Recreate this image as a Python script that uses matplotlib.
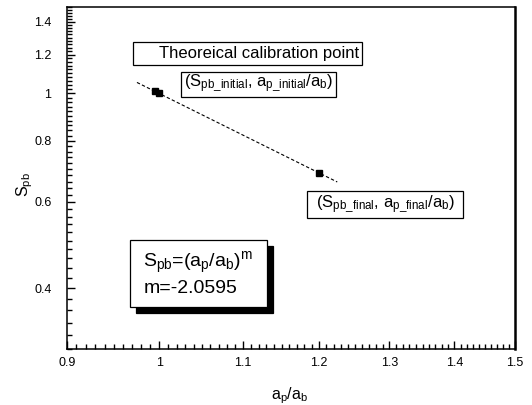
import matplotlib
matplotlib.use('Agg')
import matplotlib.pyplot as plt
import matplotlib.patches as patches
from matplotlib.ticker import FixedLocator, FixedFormatter, NullFormatter
import numpy as np

plt.rcParams['font.family'] = ['Liberation Sans', 'DejaVu Sans']
plt.rcParams['mathtext.fontset'] = 'custom'
plt.rcParams['mathtext.rm'] = 'Liberation Sans'
plt.rcParams['mathtext.it'] = 'Liberation Sans'
plt.rcParams['mathtext.bf'] = 'Liberation Sans:bold'

# datos
pts_x = [0.995, 1.0, 1.2]
pts_y = [1.010, 1.0, 0.687]
fit_x = [0.975, 1.225]
fit_y = [1.053, 0.659]

xticks = [0.9, 1.0, 1.1, 1.2, 1.3, 1.4, 1.5]
xlabels = ['0.9', '1', '1.1', '1.2', '1.3', '1.4', '1.5']
yticks = [0.4, 0.6, 0.8, 1.0, 1.2, 1.4]
ylabels = ['0.4', '0.6', '0.8', '1', '1.2', '1.4']

fig = plt.figure(figsize=(5.32, 4.05), dpi=100)
ax = fig.add_axes([0.1254, 0.138, 0.8426, 0.844])

ax.plot(fit_x, fit_y, color='black', linestyle=(0, (3, 2)), linewidth=0.8)
ax.plot(pts_x, pts_y, 's', color='black', markersize=5)

ax.set_xscale('log')
ax.set_yscale('log')
ax.set_xlim(0.9, 1.5)
ax.set_ylim(0.3, 1.5)

ax.xaxis.set_major_locator(FixedLocator(xticks))
ax.xaxis.set_major_formatter(FixedFormatter(xlabels))
ax.xaxis.set_minor_locator(FixedLocator(np.arange(0.9, 1.5001, 0.01)))
ax.xaxis.set_minor_formatter(NullFormatter())
ax.yaxis.set_major_locator(FixedLocator(yticks))
ax.yaxis.set_major_formatter(FixedFormatter(ylabels))
ax.yaxis.set_minor_locator(FixedLocator(np.arange(0.3, 1.5001, 0.02)))
ax.yaxis.set_minor_formatter(NullFormatter())

ax.tick_params(which='both', direction='in', top=False, right=False, width=1.0)
ax.tick_params(which='major', length=6)
ax.tick_params(which='minor', length=3.5)
ax.tick_params(axis='x', which='major', labelsize=9, pad=6)
ax.tick_params(axis='y', which='major', labelsize=9, pad=11)
for s in ax.spines.values():
    s.set_linewidth(1.1)
ax.spines['right'].set_linewidth(1.8)

ax.set_xlabel('a$_p$/a$_b$', fontsize=11.5)
ax.set_ylabel('S$_{pb}$', fontsize=11.5)
ax.xaxis.set_label_coords(0.498, -0.105)
ax.yaxis.set_label_coords(-0.07, 0.48)

# cajas de texto
ax.add_patch(patches.Rectangle((0.147, 0.831), 0.512, 0.067, transform=ax.transAxes,
                               facecolor='white', edgecolor='black', linewidth=0.9))
ax.text(0.652, 0.864, 'Theoreical calibration point', transform=ax.transAxes,
        ha='right', va='center', fontsize=12)

ax.add_patch(patches.Rectangle((0.255, 0.738), 0.346, 0.074, transform=ax.transAxes,
                               facecolor='white', edgecolor='black', linewidth=0.9))
ax.text(0.428, 0.777, r'(S$_{pb\_initial}$, a$_{p\_initial}$/a$_b$)', transform=ax.transAxes,
        ha='center', va='center', fontsize=12)

ax.add_patch(patches.Rectangle((0.537, 0.383), 0.346, 0.080, transform=ax.transAxes,
                               facecolor='white', edgecolor='black', linewidth=0.9))
ax.text(0.71, 0.425, r'(S$_{pb\_final}$, a$_{p\_final}$/a$_b$)', transform=ax.transAxes,
        ha='center', va='center', fontsize=12)

dx = 6 / 448.3
dy = 6 / 341.7
ax.add_patch(patches.Rectangle((0.141 + dx, 0.123 - dy), 0.3065, 0.196, transform=ax.transAxes,
                               facecolor='black', edgecolor='black', linewidth=0.9))
ax.add_patch(patches.Rectangle((0.141, 0.123), 0.3065, 0.196, transform=ax.transAxes,
                               facecolor='white', edgecolor='black', linewidth=0.9))
ax.text(0.171, 0.241, r'S$_{pb}$=(a$_p$/a$_b$)$^m$', transform=ax.transAxes,
        ha='left', va='baseline', fontsize=14)
ax.text(0.171, 0.163, 'm=-2.0595', transform=ax.transAxes,
        ha='left', va='baseline', fontsize=14)

fig.savefig('out.png', dpi=100)
